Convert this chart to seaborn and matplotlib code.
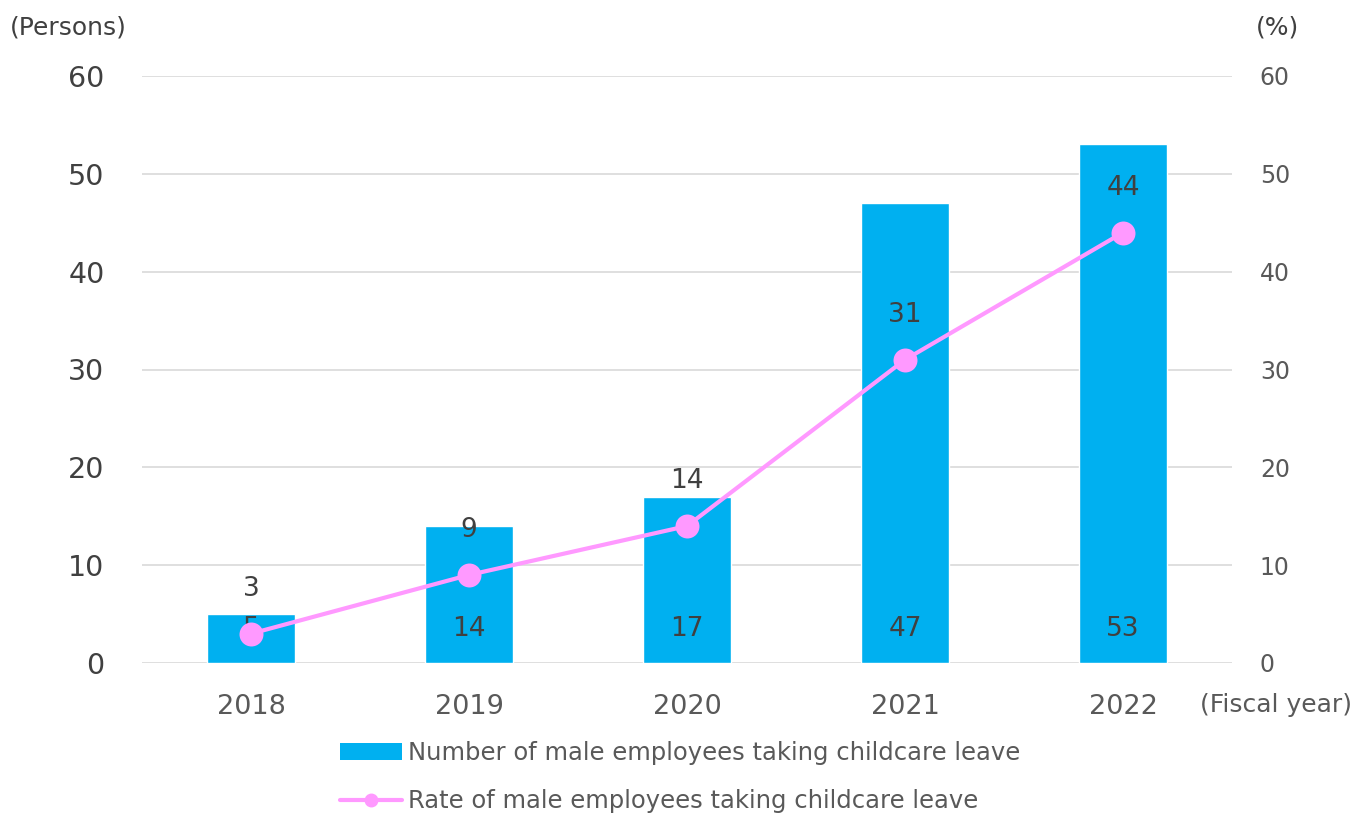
import matplotlib
matplotlib.use("Agg")
import matplotlib.pyplot as plt
import seaborn as sns
import pandas as pd
from matplotlib.patches import Patch
from matplotlib.lines import Line2D

years = ["2018", "2019", "2020", "2021", "2022"]
persons = [5, 14, 17, 47, 53]
rates = [3, 9, 14, 31, 44]

bar_label = "Number of male employees taking childcare leave"
line_label = "Rate of male employees taking childcare leave"

BAR_COLOR = "#00B0F0"
LINE_COLOR = "#FF99FF"
DARK = "#404040"
GRAY = "#595959"
GRID = "#D9D9D9"

sns.set_theme(style="white")
plt.rcParams["font.family"] = ["DejaVu Sans"]

df = pd.DataFrame({"year": years, "persons": persons, "rate": rates})

fig = plt.figure(figsize=(13.68, 8.15), dpi=100)
ax = fig.add_axes([142 / 1368, 1 - 663 / 815, (1232 - 142) / 1368, (663 - 76) / 815])

XLIM = (-0.5, 4.5)

sns.barplot(data=df, x="year", y="persons", color=BAR_COLOR, width=0.4,
            saturation=1, ax=ax, zorder=2)
ax.set_ylim(0, 60)
ax.set_yticks(range(0, 61, 10))
ax.set_xlim(*XLIM)
ax.grid(axis="y", color=GRID, linewidth=1.2, zorder=0)
ax.set_axisbelow(True)
for s in ax.spines.values():
    s.set_visible(False)
ax.tick_params(axis="y", length=0, pad=27, labelsize=20.5, labelcolor=DARK)
ax.tick_params(axis="x", length=0, pad=22, labelsize=19.5, labelcolor=GRAY)
ax.set_xlabel("")
ax.set_ylabel("")

# bar value labels near the base of each bar
for i, v in enumerate(persons):
    ax.text(i, 3.5, f"{v}", ha="center", va="center", fontsize=19, color=DARK, zorder=5)

ax2 = ax.twinx()
sns.pointplot(data=df, x="year", y="rate", color=LINE_COLOR, ax=ax2,
              markers="o", markersize=15, linewidth=3)
ax2.set_ylim(0, 60)
ax2.set_yticks(range(0, 61, 10))
ax2.set_xlim(*XLIM)
for s in ax2.spines.values():
    s.set_visible(False)
ax2.tick_params(axis="y", length=0, pad=20, labelsize=17, labelcolor=GRAY)
ax2.set_ylabel("")
ax2.grid(False)

for i, v in enumerate(rates):
    ax2.text(i, v + 4.6, f"{v}", ha="center", va="center", fontsize=19, color=DARK)

fig.text(10 / 1368, 1 - 27 / 815, "(Persons)", ha="left", va="center", fontsize=18, color=DARK)
fig.text(1277 / 1368, 1 - 27 / 815, "(%)", ha="center", va="center", fontsize=18, color=DARK)
fig.text(1352 / 1368, 1 - 705 / 815, "(Fiscal year)", ha="right", va="center", fontsize=18, color=GRAY)

handles = [
    Patch(facecolor=BAR_COLOR, edgecolor="none", label=bar_label),
    Line2D([], [], color=LINE_COLOR, lw=3, marker="o", markersize=9, label=line_label),
]
leg = fig.legend(handles=handles, loc="upper left", bbox_to_anchor=(340 / 1368, 1 - 741 / 815),
                 frameon=False, fontsize=17.5, handlelength=2.55, handleheight=0.7,
                 handletextpad=0.25, labelspacing=1.0, borderaxespad=0, borderpad=0)
for t in leg.get_texts():
    t.set_color(GRAY)

fig.savefig("out.png", dpi=100)
